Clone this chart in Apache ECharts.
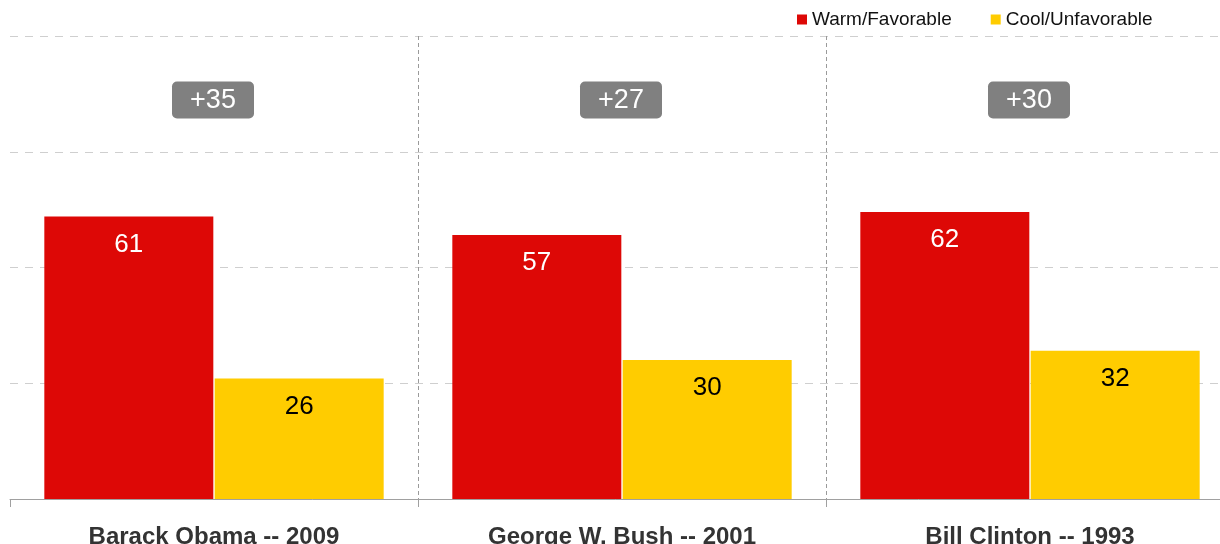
<!DOCTYPE html>
<html>
<head>
<meta charset="utf-8">
<script src="https://cdn.jsdelivr.net/npm/echarts@6/dist/echarts.min.js"></script>
<style>
  html, body { margin: 0; padding: 0; background: #fff; }
  #chart { width: 1220px; height: 544px; }
</style>
</head>
<body>
<div id="chart"></div>
<script>
// Presidents at the start of their first term
const categories = ['Barack Obama -- 2009', 'George W. Bush -- 2001', 'Bill Clinton -- 1993'];
const warmFavorable = [61, 57, 62];
const coolUnfavorable = [26, 30, 32];
const seriesNames = ['Warm/Favorable', 'Cool/Unfavorable'];
const yTicks = [0, 25, 50, 75, 100];

const FONT = '"Liberation Sans", Arial, Helvetica, sans-serif';
const RED = '#DD0806';
const YELLOW = '#FFCC00';

// Net rating (warm minus cool) shown in the grey badge above each pair
const netRating = categories.map((c, i) => warmFavorable[i] - coolUnfavorable[i]);

const chart = echarts.init(document.getElementById('chart'), null, { renderer: 'canvas' });

chart.setOption({
  animation: false,
  backgroundColor: '#fff',
  textStyle: { fontFamily: FONT },
  legend: {
    data: seriesNames,
    left: 797,
    top: 10,
    padding: 0,
    itemGap: 39,
    itemWidth: 10,
    itemHeight: 10,
    icon: 'rect',
    textStyle: { fontFamily: FONT, fontSize: 19, color: '#111' }
  },
  // the plot runs a little past the right edge of the page
  grid: {
    left: 10, top: 36, width: 1224, height: 463,
    containLabel: false,
    outerBoundsMode: 'none'
  },
  xAxis: {
    type: 'category',
    data: categories,
    axisLine: { show: true, lineStyle: { color: '#a0a0a0', width: 1 } },
    axisTick: { show: true, length: 8, lineStyle: { color: '#a0a0a0' } },
    splitLine: {
      show: true,
      showMinLine: false,
      lineStyle: { color: '#9a9a9a', type: [4, 3], width: 1 }
    },
    axisLabel: {
      fontFamily: FONT,
      fontSize: 24,
      fontWeight: 'bold',
      color: '#333',
      margin: 26
    }
  },
  yAxis: {
    type: 'value',
    min: yTicks[0],
    max: yTicks[yTicks.length - 1],
    interval: yTicks[1] - yTicks[0],
    axisLabel: { show: false },
    axisLine: { show: false },
    axisTick: { show: false },
    splitLine: { show: true, lineStyle: { color: '#cfcfcf', type: [8, 7], width: 1 } }
  },
  series: [
    {
      name: seriesNames[0],
      type: 'bar',
      data: warmFavorable,
      barWidth: 169,
      barGap: '0.8%',
      itemStyle: { color: RED },
      label: {
        show: true,
        position: 'insideTop',
        distance: 15,
        fontFamily: FONT,
        fontSize: 26,
        color: '#fff'
      }
    },
    {
      name: seriesNames[1],
      type: 'bar',
      data: coolUnfavorable,
      barWidth: 169,
      barGap: '0.8%',
      itemStyle: { color: YELLOW },
      label: {
        show: true,
        position: 'insideTop',
        distance: 15,
        fontFamily: FONT,
        fontSize: 26,
        color: '#000'
      }
    },
    {
      name: 'Net',
      type: 'custom',
      data: netRating.map((v, i) => [i, v]),
      z: 10,
      renderItem: function (params, api) {
        const idx = api.value(0);
        const net = api.value(1);
        const x = api.coord([idx, 0])[0] - 1;
        const cy = 100;
        const w = 82, h = 37;
        return {
          type: 'group',
          children: [
            {
              type: 'rect',
              shape: { x: x - w / 2, y: cy - h / 2, width: w, height: h, r: 5 },
              style: { fill: '#808080' }
            },
            {
              type: 'text',
              style: {
                text: '+' + net,
                x: x,
                y: cy + 1,
                align: 'center',
                verticalAlign: 'middle',
                fontFamily: FONT,
                fontSize: 27,
                fill: '#fff'
              }
            }
          ]
        };
      }
    }
  ]
});
</script>
</body>
</html>
